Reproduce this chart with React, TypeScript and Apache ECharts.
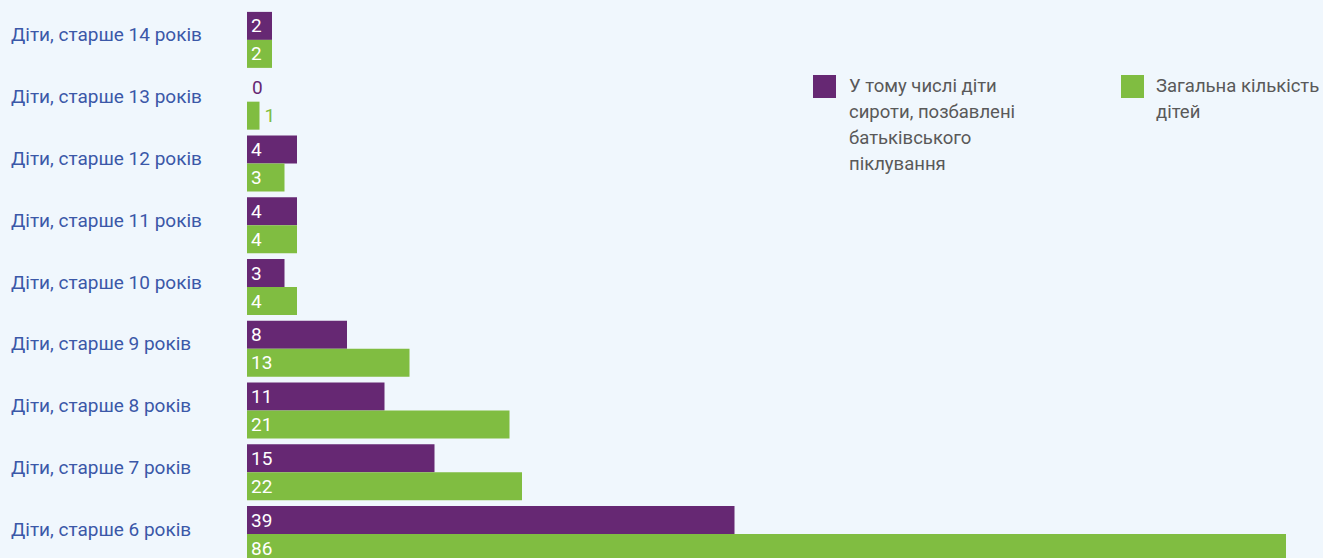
import React, { useEffect, useRef } from "react";
import * as echarts from "echarts";

const categories = [
  "Діти, старше 14 років",
  "Діти, старше 13 років",
  "Діти, старше 12 років",
  "Діти, старше 11 років",
  "Діти, старше 10 років",
  "Діти, старше 9 років",
  "Діти, старше 8 років",
  "Діти, старше 7 років",
  "Діти, старше 6 років",
];
const orphans = [2, 0, 4, 4, 3, 8, 11, 15, 39];
const total = [2, 1, 3, 4, 4, 13, 21, 22, 86];
const seriesNames = [
  "У тому числі діти сироти, позбавлені батьківського піклування",
  "Загальна кількість дітей",
];
const legendLines = [
  "У тому числі діти\nсироти, позбавлені\nбатьківського\nпіклування",
  "Загальна кількість\nдітей",
];

const PURPLE = "#662873";
const GREEN = "#80bd41";
const BG = "#f0f7fd";

function makeData(values: number[], color: string) {
  return values.map((v) =>
    v <= 1
      ? {
          value: v,
          label: {
            position: "right",
            distance: 5,
            color: color,
          },
        }
      : { value: v }
  );
}

export default function App() {
  const ref = useRef<HTMLDivElement>(null);
  useEffect(() => {
    if (!ref.current) return;
    const chart = echarts.init(ref.current, null, { renderer: "svg" });
    const labelBase = {
      show: true,
      position: "insideLeft",
      distance: 4,
      color: "#ffffff",
      fontFamily: "Roboto",
      fontSize: 19,
    };
    chart.setOption({
      animation: false,
      backgroundColor: BG,
      grid: {
        left: 247,
        right: 37,
        top: 9,
        height: 556,
        containLabel: false,
        outerBoundsMode: "none",
      },
      xAxis: {
        type: "value",
        min: 0,
        max: 83.12,
        show: false,
      },
      yAxis: {
        type: "category",
        data: categories,
        inverse: true,
        axisLine: { show: false },
        axisTick: { show: false },
        splitLine: { show: false },
        axisLabel: {
          align: "left",
          verticalAlign: "bottom",
          lineHeight: 10,
          margin: 236,
          color: "#3b58a8",
          fontFamily: "Roboto",
          fontSize: 19,
        },
      },
      series: [
        {
          name: seriesNames[0],
          type: "bar",
          barWidth: 28,
          barGap: "0%",
          itemStyle: { color: PURPLE },
          label: labelBase,
          data: makeData(orphans, PURPLE),
        },
        {
          name: seriesNames[1],
          type: "bar",
          barWidth: 28,
          barGap: "0%",
          itemStyle: { color: GREEN },
          label: labelBase,
          data: makeData(total, GREEN),
        },
      ],
      graphic: [
        {
          type: "rect",
          left: 813,
          top: 75,
          shape: { width: 23, height: 23 },
          style: { fill: PURPLE },
        },
        {
          type: "text",
          left: 849,
          top: 73,
          style: {
            text: legendLines[0],
            fill: "#595959",
            font: "18.5px Roboto",
            lineHeight: 26,
          },
        },
        {
          type: "rect",
          left: 1121,
          top: 75,
          shape: { width: 23, height: 23 },
          style: { fill: GREEN },
        },
        {
          type: "text",
          left: 1156,
          top: 73,
          style: {
            text: legendLines[1],
            fill: "#595959",
            font: "18.5px Roboto",
            lineHeight: 26,
          },
        },
      ],
    });
    return () => chart.dispose();
  }, []);
  return (
    <div
      ref={ref}
      style={{
        position: "fixed",
        left: 0,
        top: 0,
        width: 1323,
        height: 567,
        background: BG,
      }}
    />
  );
}
